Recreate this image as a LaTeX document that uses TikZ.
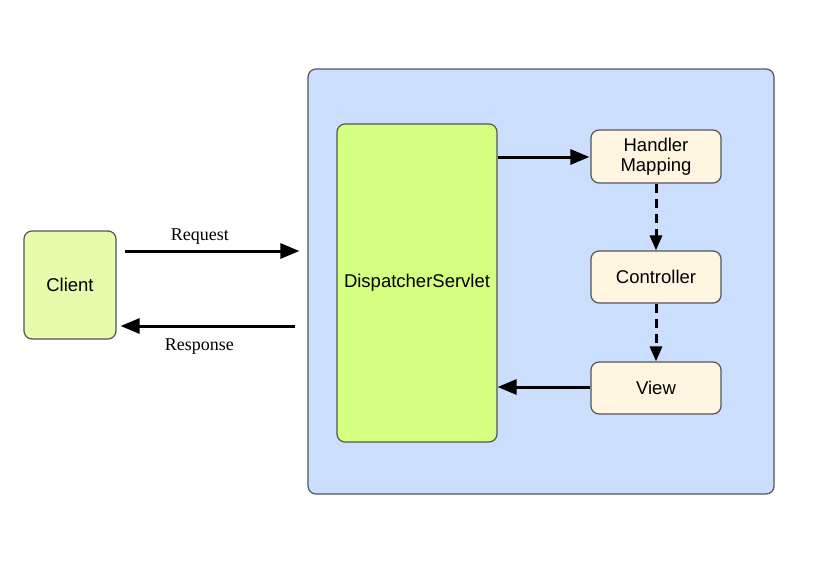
\documentclass[tikz,border=0pt]{standalone}
\usepackage{fontspec}
\setmainfont{Liberation Serif}
\newfontfamily\boxfont{Liberation Sans}
\usetikzlibrary{arrows.meta}
\definecolor{clientfill}{HTML}{E6FBAB}
\definecolor{contfill}{HTML}{CCDEFD}
\definecolor{dsfill}{HTML}{D5FF80}
\definecolor{smallfill}{HTML}{FFF5E1}
\definecolor{edge}{HTML}{555555}
\tikzset{
  box/.style={draw=edge, line width=1.2pt, rounded corners=8pt, inner sep=0pt, font=\boxfont\fontsize{18.5}{20}\selectfont, align=center},
  arr/.style={line width=3pt, -{Triangle[length=19pt,width=15pt]}},
  darr/.style={line width=3pt, dash pattern=on 9pt off 6pt, -{Triangle[length=15pt,width=12pt]}},
  lbl/.style={font=\fontsize{18}{20}\selectfont, inner sep=0pt}
}
\begin{document}
\begin{tikzpicture}[x=1pt,y=-1pt]
\useasboundingbox[fill=white] (0,0) rectangle (814,566);
\node[box, fill=contfill, minimum width=466pt, minimum height=425pt] (cont) at (541,281.5) {};
\node[box, fill=clientfill, minimum width=92pt, minimum height=108pt] (client) at (70,285) {Client};
\node[box, fill=dsfill, minimum width=160pt, minimum height=318pt] (ds) at (417,283) {DispatcherServlet};
\node[box, fill=smallfill, minimum width=130pt, minimum height=53pt] (hm) at (656,156.5) {Handler\\[0pt]Mapping};
\node[box, fill=smallfill, minimum width=130pt, minimum height=52pt] (ctl) at (656,277) {Controller};
\node[box, fill=smallfill, minimum width=130pt, minimum height=52pt] (view) at (656,388) {View};
\draw[arr] ([xshift=8pt]client.east |- 0,251) -- ([xshift=-8pt]cont.west |- 0,251)
  node[lbl, pos=0.43, above=5pt] (req) {Request};
\draw[arr] ([xshift=-12pt]cont.west |- 0,326) -- ([xshift=4pt]client.east |- 0,326)
  node[lbl, pos=0.55, below=11pt] (resp) {Response};
\draw[arr] (ds.east |- 0,157) -- ([xshift=-1pt]hm.west |- 0,157);
\draw[darr] (hm.south) -- (ctl.north);
\draw[darr] (ctl.south) -- (view.north);
\draw[arr] (view.west |- 0,387) -- (ds.east |- 0,387);
\end{tikzpicture}
\end{document}
